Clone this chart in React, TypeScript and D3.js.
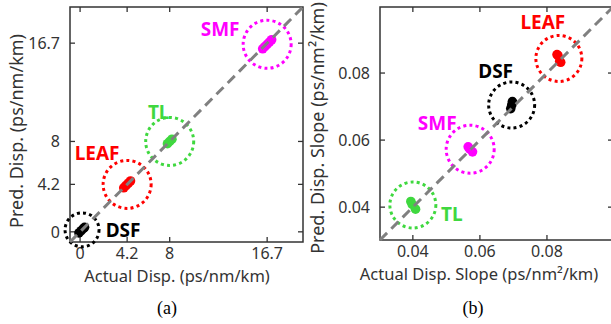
import { useEffect, useRef } from 'react';
import * as d3 from 'd3';

type Pt = [number, number];

// fiber types and their colours
const fiberNames = ['SMF', 'TL', 'LEAF', 'DSF'];
const fiberColors = ['#ff00ff', '#3fd83f', '#ff0000', '#000000'];

// (a) dispersion, ps/nm/km : [actual, predicted]
const dispSMF: Pt[] = [[16.3, 16.2], [16.5, 16.4], [16.7, 16.6], [16.9, 16.8], [17.1, 17.0]];
const dispTL: Pt[] = [[7.8, 7.8], [8.0, 8.0], [8.2, 8.2]];
const dispLEAF: Pt[] = [[3.9, 3.9], [4.1, 4.1], [4.3, 4.3], [4.5, 4.5]];
const dispDSF: Pt[] = [[-0.1, -0.1], [0.1, 0.1], [0.3, 0.3], [0.4, 0.4]];
const dispTicks = [0, 4.2, 8, 16.7];

// (b) dispersion slope, ps/nm^2/km : [actual, predicted]
const slopeSMF: Pt[] = [[0.0565, 0.058], [0.057, 0.0573], [0.0578, 0.0565]];
const slopeTL: Pt[] = [[0.0394, 0.0417], [0.0398, 0.0408], [0.0408, 0.0394]];
const slopeLEAF: Pt[] = [[0.083, 0.0855], [0.0833, 0.0852], [0.0838, 0.0835], [0.0841, 0.0832]];
const slopeDSF: Pt[] = [[0.0697, 0.0715], [0.0695, 0.0705], [0.0692, 0.0694]];
const slopeTicks = [0.04, 0.06, 0.08];

const FONT = '"Noto Sans", "Open Sans", sans-serif';
const TEXT = '#333';

interface PanelCfg {
    left: number; right: number; top: number; bottom: number;
    domain: [number, number];
    ticks: number[];
    fmt: (v: number) => string;
    series: Pt[][];
    ringR: number[];
    labelOff: Pt[];
    xLabel: string;
    xLabelX: number;
    yLabel: string;
    yLabelX: number;
    yLabelY: number;
    caption: string;
    captionX: number;
}

function drawPanel(svg: d3.Selection<SVGSVGElement, unknown, null, undefined>, c: PanelCfg) {
    const x = d3.scaleLinear().domain(c.domain).range([c.left, c.right]);
    const y = d3.scaleLinear().domain(c.domain).range([c.bottom, c.top]);
    const g = svg.append('g');

    // frame
    g.append('rect')
        .attr('x', c.left).attr('y', c.top)
        .attr('width', c.right - c.left).attr('height', c.bottom - c.top)
        .attr('fill', 'none').attr('stroke', '#333').attr('stroke-width', 1.5);

    // inward ticks on all four sides
    const tl = 5;
    c.ticks.forEach(t => {
        g.append('line').attr('x1', x(t)).attr('x2', x(t)).attr('y1', c.bottom).attr('y2', c.bottom - tl);
        g.append('line').attr('x1', x(t)).attr('x2', x(t)).attr('y1', c.top).attr('y2', c.top + tl);
        g.append('line').attr('y1', y(t)).attr('y2', y(t)).attr('x1', c.left).attr('x2', c.left + tl);
        g.append('line').attr('y1', y(t)).attr('y2', y(t)).attr('x1', c.right).attr('x2', c.right - tl);
    });
    g.selectAll('line').attr('stroke', '#333').attr('stroke-width', 1.3);

    // tick labels
    c.ticks.forEach(t => {
        g.append('text').attr('x', x(t)).attr('y', c.bottom + 17)
            .attr('text-anchor', 'middle').attr('font-size', 16).text(c.fmt(t));
        g.append('text').attr('x', c.left - 10).attr('y', y(t)).attr('dy', '0.36em')
            .attr('text-anchor', 'end').attr('font-size', 16).text(c.fmt(t));
    });

    // dotted rings around each cluster
    const centers = c.series.map(s => [d3.mean(s, d => d[0])!, d3.mean(s, d => d[1])!] as Pt);
    centers.forEach((ctr, i) => {
        g.append('circle')
            .attr('cx', x(ctr[0])).attr('cy', y(ctr[1])).attr('r', c.ringR[i])
            .attr('fill', 'none').attr('stroke', fiberColors[i])
            .attr('stroke-width', 3).attr('stroke-dasharray', '3,3.2');
    });

    // predicted vs actual points
    c.series.forEach((s, i) => {
        g.append('g').selectAll('circle').data(s).join('circle')
            .attr('cx', d => x(d[0])).attr('cy', d => y(d[1])).attr('r', 4.8)
            .attr('fill', fiberColors[i]);
    });

    // y = x reference
    g.append('line')
        .attr('x1', x(c.domain[0])).attr('y1', y(c.domain[0]))
        .attr('x2', x(c.domain[1])).attr('y2', y(c.domain[1]))
        .attr('stroke', '#808080').attr('stroke-width', 3).attr('stroke-dasharray', '10,6');

    // fiber labels
    centers.forEach((ctr, i) => {
        g.append('text')
            .attr('x', x(ctr[0]) + c.labelOff[i][0]).attr('y', y(ctr[1]) + c.labelOff[i][1])
            .attr('text-anchor', 'middle').attr('font-weight', 700).attr('font-size', 19)
            .attr('fill', fiberColors[i]).text(fiberNames[i]);
    });

    // axis labels
    g.append('text').attr('x', c.xLabelX).attr('y', c.bottom + 40)
        .attr('text-anchor', 'middle').attr('font-size', 16.5).text(c.xLabel);
    g.append('text')
        .attr('transform', `translate(${c.yLabelX},${c.yLabelY}) rotate(-90)`)
        .attr('text-anchor', 'middle').attr('font-size', 18).text(c.yLabel);
    g.append('text').attr('x', c.captionX).attr('y', 314)
        .attr('text-anchor', 'middle').attr('font-family', '"Liberation Serif", "Times New Roman", serif')
        .attr('font-size', 18).attr('fill', '#000').text(c.caption);
}

export default function App() {
    const svgRef = useRef<SVGSVGElement>(null);

    useEffect(() => {
        if (!svgRef.current) return;
        const svg = d3.select(svgRef.current);
        svg.selectAll('*').remove();
        svg.attr('font-family', FONT).attr('font-size', 16.5).attr('fill', TEXT);

        drawPanel(svg, {
            left: 70, right: 303, top: 7, bottom: 242,
            domain: [-0.9, 19.9],
            ticks: dispTicks,
            fmt: v => String(v),
            series: [dispSMF, dispTL, dispLEAF, dispDSF],
            ringR: [24, 24, 24, 17],
            labelOff: [[-47, -8], [-11, -22], [-30, -24], [41, 7]],
            xLabel: 'Actual Disp. (ps/nm/km)',
            xLabelX: 177,
            yLabel: 'Pred. Disp. (ps/nm/km)',
            yLabelX: 23,
            yLabelY: 131,
            caption: '(a)',
            captionX: 167,
        });

        drawPanel(svg, {
            left: 380, right: 613, top: 7, bottom: 240,
            domain: [0.0302, 0.0997],
            ticks: slopeTicks,
            fmt: d3.format('.2f'),
            series: [slopeSMF, slopeTL, slopeLEAF, slopeDSF],
            ringR: [24, 23, 23, 23],
            labelOff: [[-33, -19], [39, 16], [-16, -29], [-16, -27]],
            xLabel: 'Actual Disp. Slope (ps/nm²/km)',
            xLabelX: 479,
            yLabel: 'Pred. Disp. Slope (ps/nm²/km)',
            yLabelX: 324,
            yLabelY: 128,
            caption: '(b)',
            captionX: 473,
        });
    }, []);

    return (
        <svg
            ref={svgRef}
            width={611}
            height={324}
            style={{ position: 'absolute', left: 0, top: 0, background: '#fff' }}
        />
    );
}
